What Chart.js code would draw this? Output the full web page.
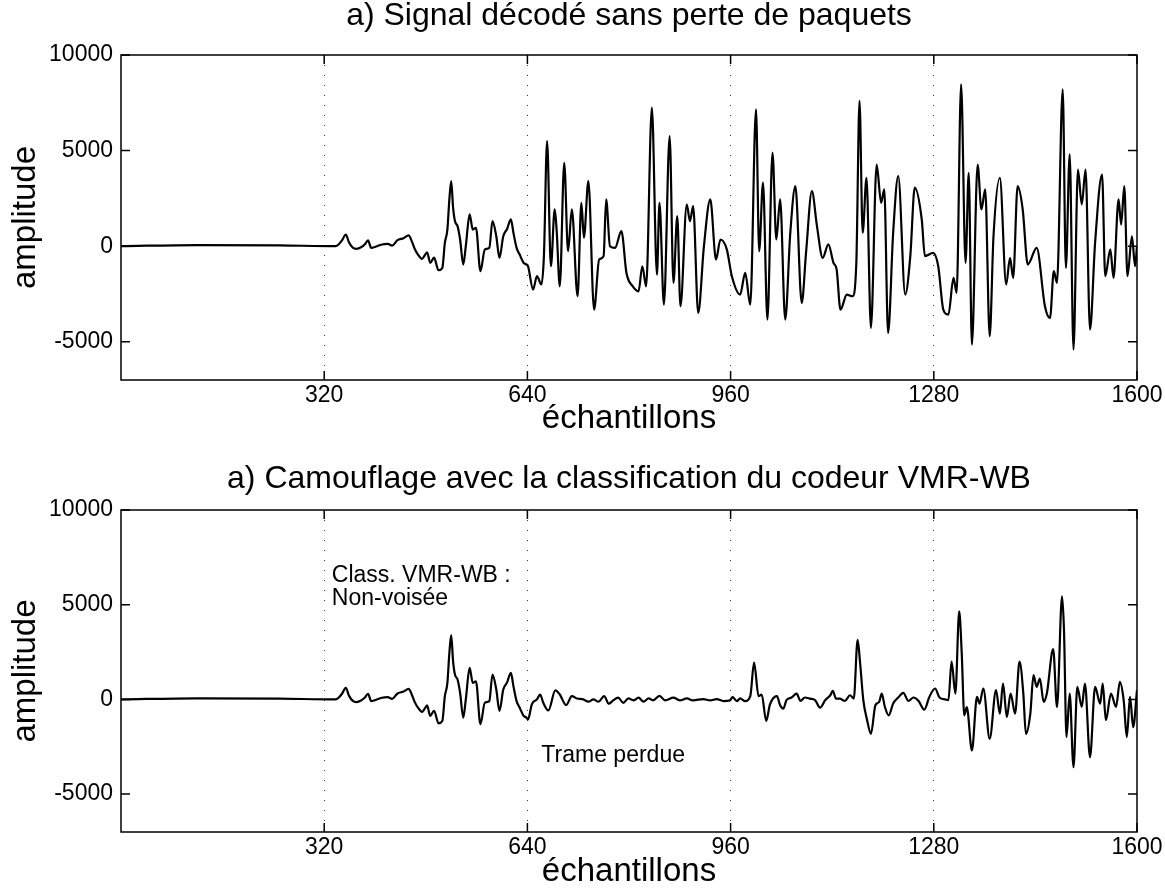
<!DOCTYPE html>
<html>
<head>
<meta charset="utf-8">
<script src="https://cdn.jsdelivr.net/npm/chart.js@4.4.1/dist/chart.umd.min.js"></script>
<style>
  html, body { margin: 0; padding: 0; background: #fff; }
  #wrap { position: relative; width: 1165px; height: 892px; }
  canvas { position: absolute; left: 0; }
</style>
</head>
<body>
<div id="wrap">
  <canvas id="TopChart" width="1165" height="445" style="top:0"></canvas>
  <canvas id="BottomChart" width="1165" height="447" style="top:445px"></canvas>
</div>
<script>
// samples 0..641, identical in both plots
const onsetX = [0, 120, 250, 338, 343, 348, 354, 359, 365, 371, 378, 384, 389, 394, 400, 411, 420, 427, 435, 445, 453, 458, 463, 468, 474, 478, 482, 487, 493, 500, 506, 510, 514, 517, 520, 523, 526, 530, 534, 539, 543, 549, 554, 559, 566, 573, 580, 585, 591, 596, 602, 608, 614, 618, 623, 628, 634, 638, 641];
const onsetY = [0, 60, 40, 0, 100, 300, 610, 200, -80, -140, -60, 100, 300, -90, -40, 90, 120, 30, 300, 420, 560, 250, -170, -450, -660, -500, -320, -870, -600, -1260, -1140, 170, 870, 2400, 3400, 2000, 1300, 1050, 350, -960, 0, 1660, 870, 960, -1310, -170, -90, 1310, 520, -610, 520, 900, 1400, 700, -90, -450, -870, -950, -1050];

// top plot: decoded signal without packet loss
const cleanX = [649, 655, 662, 666, 671, 677, 683, 686, 691, 698, 704, 710, 719, 725, 729, 736, 745, 753, 760, 764, 770, 778, 788, 796, 806, 815, 821, 827, 836, 844, 848, 855, 864, 870, 876, 881, 891, 896, 901, 909, 918, 928, 937, 944, 954, 962, 975, 983, 991, 1000, 1005, 1011, 1018, 1026, 1032, 1038, 1046, 1054, 1062, 1072, 1079, 1088, 1096, 1105, 1114, 1122, 1127, 1133, 1143, 1152, 1158, 1163, 1168, 1174, 1181, 1190, 1197, 1202, 1208, 1216, 1224, 1235, 1243, 1250, 1261, 1266, 1279, 1287, 1295, 1303, 1311, 1316, 1323, 1330, 1335, 1340, 1349, 1355, 1361, 1368, 1374, 1384, 1394, 1400, 1405, 1412, 1420, 1428, 1442, 1455, 1463, 1469, 1474, 1483, 1488, 1494, 1500, 1507, 1513, 1519, 1526, 1534, 1545, 1550, 1558, 1563, 1571, 1575, 1580, 1585, 1592, 1597, 1600];
const cleanY = [-2270, -1570, -2000, -520, 5500, -1050, 1920, 870, -2100, 4360, -260, 1920, -2620, 2270, 440, 3400, -3320, -700, -520, 2450, 0, -90, 790, -1400, -2100, -2360, -1050, -2100, 7250, -1490, 2270, -3060, 5760, -1920, 1570, -3140, 2180, 1310, 2100, -3490, 0, 2450, -700, 350, -170, -1570, -2530, -1400, -3060, 7160, -260, 3320, -3840, 4890, 350, 2450, -3840, 700, 3140, -2970, -260, 2880, 1050, -610, 90, -870, -1220, -3320, -2530, -2620, -870, 7600, 700, 3580, -4270, 4270, 2270, 2970, -4540, 700, 3670, -2530, -520, 3060, 1400, -520, -350, -1050, -3320, -3580, -1660, -2440, 8470, -870, 3840, -5150, 4270, 1920, 2970, -4710, 520, 3580, -2000, -610, -1660, 3140, 1920, -960, -90, -3140, -3760, -1310, -1920, 8200, -1140, 4800, -5410, 4010, 2180, 4010, -4360, 170, 3750, -1570, -170, -1660, 2450, 1130, 3140, -1570, 520, -1050, 0];

// bottom plot: lost frame (640..960) then the concealed signal
const lostX = [647, 655, 660, 665, 673, 684, 691, 701, 710, 718, 728, 736, 744, 752, 761, 768, 775, 783, 791, 799, 807, 815, 823, 831, 838, 848, 857, 870, 880, 891, 901, 917, 928, 938, 949, 959];
const lostY = [-260, 0, 260, -180, -580, 475, 260, -300, 175, 50, 0, -120, 0, -120, 175, -230, -50, 90, -180, 50, -50, 90, -120, 50, -50, 190, -50, 90, -50, 50, -50, 20, -50, 20, -90, -50];
const concealX = [963, 970, 975, 983, 991, 997, 1004, 1009, 1016, 1022, 1033, 1038, 1043, 1048, 1056, 1064, 1070, 1077, 1085, 1093, 1101, 1109, 1117, 1121, 1126, 1132, 1140, 1148, 1154, 1160, 1164, 1169, 1175, 1181, 1188, 1194, 1198, 1203, 1209, 1216, 1224, 1232, 1240, 1248, 1256, 1265, 1273, 1282, 1289, 1298, 1303, 1308, 1314, 1320, 1324, 1328, 1332, 1340, 1348, 1352, 1358, 1368, 1378, 1384, 1389, 1395, 1401, 1408, 1415, 1421, 1425, 1432, 1437, 1442, 1447, 1453, 1458, 1468, 1474, 1482, 1485, 1489, 1494, 1500, 1506, 1513, 1518, 1526, 1534, 1542, 1546, 1551, 1559, 1567, 1573, 1579, 1584, 1589, 1594, 1600];
const concealY = [120, -90, 50, -90, 175, 1940, 175, 260, -1140, -260, 175, -310, -490, -40, 100, 310, -80, 100, 40, -40, -440, -40, 220, 450, 40, 40, -80, 220, 40, 3140, 1900, -40, -1100, -1820, -310, -130, 310, -400, -840, -220, 100, 350, -80, 100, -80, -540, 130, 575, 100, 0, -40, 1990, 310, 4650, 2430, -840, -400, -2700, 130, -220, 575, -2080, 490, -750, 840, -930, 310, -750, 1990, 310, -1820, -750, 1280, 660, 1100, -130, 310, 2650, -400, 5440, 3670, -1990, 310, -3580, 660, -400, 840, -3050, 660, -220, 840, -1100, 310, -400, 930, -40, -1990, 130, -1470, 490];

const xTicks = [320, 640, 960, 1280, 1600];
const yTicks = [-5000, 0, 5000, 10000];

const noteText = ["Class. VMR-WB :", "Non-voisée", "Trame perdue"];
const noteX = [332, 332, 662];
const noteY = [6550, 5300, -2960];

const FONT = "'Liberation Sans', Arial, Helvetica, sans-serif";

function toPoints(xs, ys) {
  return xs.map((x, i) => ({ x: x, y: ys[i] }));
}

// box around the axes, inward ticks and text notes (matlab look)
const boxPlugin = {
  id: "matlabBox",
  afterDatasetsDraw(chart, args, opts) {
    const ctx = chart.ctx;
    const a = chart.chartArea;
    const sx = chart.scales.x;
    const sy = chart.scales.y;

    ctx.save();
    ctx.strokeStyle = "#000";
    ctx.lineWidth = 1.5;
    ctx.strokeRect(a.left, a.top, a.right - a.left, a.bottom - a.top);

    ctx.beginPath();
    xTicks.forEach(v => {
      const px = sx.getPixelForValue(v);
      ctx.moveTo(px, a.bottom);
      ctx.lineTo(px, a.bottom - 9);
      ctx.moveTo(px, a.top);
      ctx.lineTo(px, a.top + 9);
    });
    yTicks.forEach(v => {
      const py = sy.getPixelForValue(v);
      ctx.moveTo(a.left, py);
      ctx.lineTo(a.left + 9, py);
      ctx.moveTo(a.right, py);
      ctx.lineTo(a.right - 9, py);
    });
    ctx.stroke();

    const notes = opts.notes || [];
    ctx.fillStyle = "#000";
    ctx.font = "23px " + FONT;
    ctx.textAlign = "left";
    ctx.textBaseline = "middle";
    notes.forEach(i => {
      ctx.fillText(noteText[i], sx.getPixelForValue(noteX[i]), sy.getPixelForValue(noteY[i]));
    });
    ctx.restore();
  }
};

function makeChart(id, points, title, layoutCfg) {
  const canvas = document.getElementById(id);

  if (!canvas) {
    console.error(id + " canvas not found");
    return null;
  }

  const ctx = canvas.getContext("2d");

  return new Chart(ctx, {
    type: "line",
    data: {
      datasets: [{
        data: points,
        borderColor: "#000",
        borderWidth: 2.2,
        pointRadius: 0,
        cubicInterpolationMode: "monotone",
        fill: false
      }]
    },
    plugins: [boxPlugin],
    options: {
      responsive: false,
      animation: false,
      devicePixelRatio: 1,
      layout: {
        padding: { left: 0, right: 28, top: 0, bottom: 0 }
      },
      plugins: {
        legend: { display: false },
        tooltip: { enabled: false },
        title: {
          display: true,
          fullSize: false,
          text: title,
          color: "#000",
          font: { family: FONT, size: 32, weight: "normal", lineHeight: 1.0 },
          padding: { top: layoutCfg.titleTop, bottom: layoutCfg.titleBottom }
        },
        matlabBox: { notes: layoutCfg.notes }
      },
      scales: {
        x: {
          type: "linear",
          min: 0,
          max: 1600,
          afterBuildTicks: scale => {
            scale.ticks = xTicks.map(v => ({ value: v }));
          },
          afterFit: scale => {
            scale.height = layoutCfg.xHeight;
          },
          ticks: {
            color: "#000",
            padding: 2,
            maxRotation: 0,
            font: { family: FONT, size: 23 },
            callback: v => String(v)
          },
          grid: {
            drawTicks: false,
            lineWidth: 1,
            color: c => (c.tick && c.tick.value > 0 && c.tick.value < 1600) ? "#333" : "rgba(0,0,0,0)"
          },
          border: { display: false, dash: [1, 9] },
          title: {
            display: true,
            text: "échantillons",
            color: "#000",
            font: { family: FONT, size: 33 },
            padding: { top: 0, bottom: layoutCfg.xTitleBottom }
          }
        },
        y: {
          min: -7000,
          max: 10000,
          afterBuildTicks: scale => {
            scale.ticks = yTicks.map(v => ({ value: v }));
          },
          afterFit: scale => {
            scale.width = 121;
          },
          ticks: {
            color: "#000",
            padding: 8,
            font: { family: FONT, size: 23 },
            callback: v => String(v)
          },
          grid: { display: false, drawTicks: false },
          border: { display: false },
          title: {
            display: true,
            text: "amplitude",
            color: "#000",
            font: { family: FONT, size: 33 },
            padding: { top: 6, bottom: 0 }
          }
        }
      }
    }
  });
}

let topChart = makeChart(
  "TopChart",
  toPoints(onsetX.concat(cleanX), onsetY.concat(cleanY)),
  "a) Signal décodé sans perte de paquets",
  { titleTop: 0, titleBottom: 23, xHeight: 65, xTitleBottom: 6, notes: [] }
);

let bottomChart = makeChart(
  "BottomChart",
  toPoints(onsetX.concat(lostX, concealX), onsetY.concat(lostY, concealY)),
  "a) Camouflage avec la classification du codeur VMR-WB",
  { titleTop: 18, titleBottom: 15, xHeight: 60, xTitleBottom: 0, notes: [0, 1, 2] }
);
</script>
</body>
</html>
